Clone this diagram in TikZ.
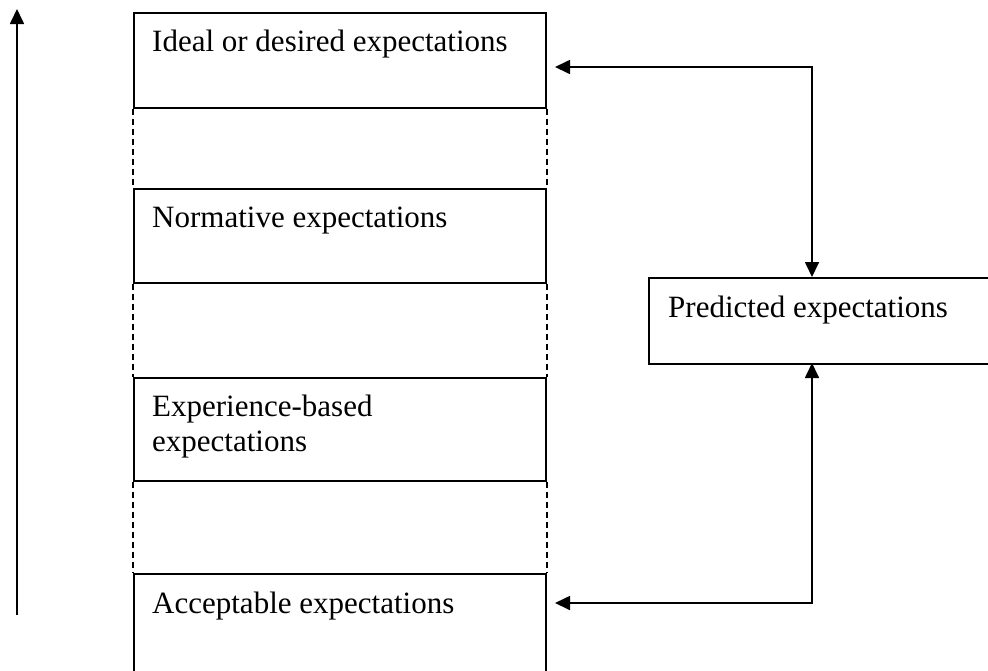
\documentclass[tikz,border=0pt]{standalone}
\usepackage{fontspec}
\setmainfont{Liberation Serif}
\usetikzlibrary{arrows.meta,calc}
\begin{document}
\begin{tikzpicture}[x=1pt,y=-1pt,
  ln/.style={line width=1.7pt},
  boxs/.style={ln,draw,rectangle,inner sep=0pt,anchor=north west,minimum width=412pt},
  lbl/.style={anchor=base west,inner sep=0pt,font=\fontsize{31}{35.6}\selectfont},
  dsh/.style={line width=1.7pt,dash pattern=on 6pt off 4pt},
  arr/.style={ln,-{Triangle[length=15pt,width=14pt]}},
  darr/.style={ln,{Triangle[length=15pt,width=14pt]}-{Triangle[length=15pt,width=14pt]}}]
\useasboundingbox (0,0) rectangle (988,670);
\clip (0,0) rectangle (988,670);
\fill[white] (0,0) rectangle (988,670);
% boxes
\node[boxs,minimum height=95pt] (b1) at (133,12) {};
\node[boxs,minimum height=94pt] (b2) at (133,188) {};
\node[boxs,minimum height=103pt] (b3) at (133,377) {};
\node[boxs,minimum height=110pt] (b4) at (133,573) {};
\node[ln,draw,rectangle,inner sep=0pt,anchor=north west,minimum width=360pt,minimum height=86pt] (p) at (648,277) {};
% labels
\node[lbl] (t1) at ($(b1.north west)+(19,39)$) {Ideal or desired expectations};
\node[lbl] (t2) at ($(b2.north west)+(19,39)$) {Normative expectations};
\node[lbl] (t3) at ($(b3.north west)+(19,39)$) {Experience-based};
\node[lbl] (t3b) at ($(t3.base west)+(0,35.6)$) {expectations};
\node[lbl] (t4) at ($(b4.north west)+(19,40)$) {Acceptable expectations};
\node[lbl] (tp) at ($(p.north west)+(20,40)$) {Predicted expectations};
% dashed sides
\draw[dsh] (b1.south west) -- (b2.north west);
\draw[dsh] (b1.south east) -- (b2.north east);
\draw[dsh] (b2.south west) -- (b3.north west);
\draw[dsh] (b2.south east) -- (b3.north east);
\draw[dsh] (b3.south west) -- (b4.north west);
\draw[dsh] (b3.south east) -- (b4.north east);
% left axis arrow
\coordinate (a0) at (17,615);
\coordinate (a1) at (17,9);
\draw[arr] (a0) -- (a1);
% connectors
\coordinate (ta) at (555,67);
\coordinate (pt) at (812,277);
\coordinate (pb) at (812,363);
\coordinate (ba) at (555,603);
\draw[darr] (ta) -| (pt);
\draw[darr] (ba) -| (pb);
\end{tikzpicture}
\end{document}
